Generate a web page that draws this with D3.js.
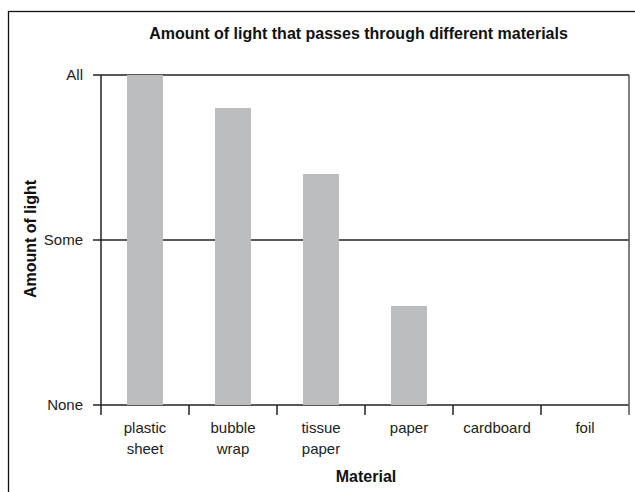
<!DOCTYPE html>
<html><head><meta charset="utf-8">
<script src="https://cdn.jsdelivr.net/npm/d3@7"></script>
<style>body{margin:0;background:#fff}svg{display:block}text{font-family:"Liberation Sans",Arial,sans-serif}</style>
</head><body><div id="chart"></div>
<script>
const categories = [["plastic","sheet"],["bubble","wrap"],["tissue","paper"],["paper"],["cardboard"],["foil"]];
const values = [2, 1.8, 1.4, 0.6, 0, 0];
const yTickValues = [0, 1, 2];
const yTickLabels = ["None", "Some", "All"];

(function () {
const W = 635, H = 492;
const svg = d3.select("#chart").append("svg").attr("width", W).attr("height", H);
svg.append("rect").attr("x", 8.5).attr("y", 11.5).attr("width", 640).attr("height", 500)
  .attr("fill", "none").attr("stroke", "#111").attr("stroke-width", 1.3);

const pLeft = 101, pRight = 629, pTop = 75, pBottom = 405;
const keys = categories.map((c, i) => i);
const x = d3.scaleBand().domain(keys).range([pLeft, pRight]).paddingInner(0).paddingOuter(0);
const y = d3.scaleLinear().domain([0, 2]).range([pBottom, pTop]);

// gridlines
svg.append("g").selectAll("line").data(yTickValues).join("line")
  .attr("x1", pLeft - 8).attr("x2", pRight).attr("y1", d => y(d)).attr("y2", d => y(d))
  .attr("stroke", "#222").attr("stroke-width", 1.3);

// bars
const bw = 36;
svg.append("g").selectAll("rect").data(values).join("rect")
  .attr("x", (d, i) => x(i) + x.bandwidth() / 2 - bw / 2)
  .attr("width", bw)
  .attr("y", d => y(d)).attr("height", d => pBottom - y(d))
  .attr("fill", "#bcbdbf");

// axes lines
svg.append("line").attr("x1", pLeft).attr("x2", pLeft).attr("y1", pTop).attr("y2", pBottom + 10)
  .attr("stroke", "#222").attr("stroke-width", 1.5);
svg.append("line").attr("x1", pRight).attr("x2", pRight).attr("y1", pTop).attr("y2", pBottom + 10)
  .attr("stroke", "#555").attr("stroke-width", 1.5);
// x ticks
svg.append("g").selectAll("line").data(keys.slice(1)).join("line")
  .attr("x1", d => x(d)).attr("x2", d => x(d)).attr("y1", pBottom).attr("y2", pBottom + 10)
  .attr("stroke", "#222").attr("stroke-width", 1.5);

// y tick labels
svg.append("g").selectAll("text").data(yTickValues).join("text")
  .attr("x", pLeft - 18).attr("y", d => y(d)).attr("dy", "0.35em")
  .attr("text-anchor", "end").attr("font-size", 15).attr("fill", "#222")
  .text((d, i) => yTickLabels[i]);

// x labels
const xl = svg.append("g").selectAll("text").data(categories).join("text")
  .attr("text-anchor", "middle").attr("font-size", 15).attr("fill", "#222")
  .attr("transform", (d, i) => `translate(${x(i) + x.bandwidth() / 2},${pBottom + 28})`);
xl.selectAll("tspan").data(d => d).join("tspan")
  .attr("x", 0).attr("dy", (d, j) => j === 0 ? 0 : 21).text(d => d);

// titles
svg.append("text").attr("x", 358.5).attr("y", 39).attr("text-anchor", "middle")
  .attr("font-size", 16).attr("font-weight", "bold").attr("fill", "#111")
  .text("Amount of light that passes through different materials");
svg.append("text").attr("x", 366).attr("y", 482).attr("text-anchor", "middle")
  .attr("font-size", 16).attr("font-weight", "bold").attr("fill", "#111").text("Material");
svg.append("text").attr("transform", "translate(36,239) rotate(-90)").attr("text-anchor", "middle")
  .attr("font-size", 16).attr("font-weight", "bold").attr("fill", "#111").text("Amount of light");
})();
</script></body></html>
